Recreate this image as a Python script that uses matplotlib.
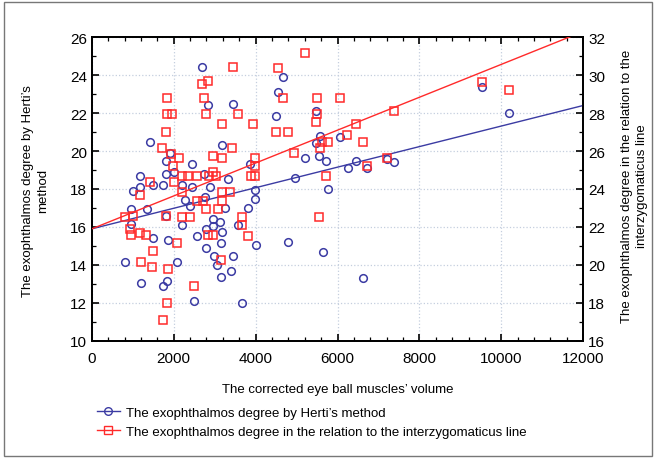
import numpy as np
import matplotlib.pyplot as plt
from matplotlib.patches import Rectangle
from matplotlib.lines import Line2D
from matplotlib.ticker import MultipleLocator

plt.rcParams['font.family'] = ['Liberation Sans', 'DejaVu Sans']

# corrected eye ball muscles' volume vs exophthalmos degree by Hertel's method (left axis)
herti_x = [2680, 2840, 3440, 1430, 3170, 1920, 1820, 2450, 1170, 1820, 2010, 2740, 3330, 3860,
           1730, 2190, 2440, 2880, 1000, 1165, 1490, 960, 1340, 1820,
           3985, 3985, 2270, 2395, 3250, 3820, 2760,
           960, 1490, 1860, 815, 1205, 1735, 1825, 2085, 2965, 3130, 2965, 2800, 2190, 2580,
           3170, 3560, 3145, 2800, 2980, 3045, 3445, 3410, 3145, 4010, 2500, 3660,
           5570, 5475, 6060, 5205, 5550, 5720, 4960, 5775, 6250, 6450, 4675, 4555, 4500, 5475,
           6730, 7220, 7390, 4800, 5640, 6615, 9540, 10190]
herti_y = [24.44, 22.4, 22.5, 20.5, 20.3, 19.9, 19.45, 19.3, 18.7, 18.8, 18.9, 18.8, 18.5, 19.3,
           18.2, 18.2, 18.1, 18.1, 17.9, 18.1, 18.2, 16.95, 16.95, 16.6,
           17.96, 17.47, 17.44, 17.09, 16.98, 16.98, 17.6,
           16.16, 15.42, 15.3, 14.17, 13.05, 12.9, 13.17, 14.17, 16.42, 16.25, 16.07, 15.9, 16.12, 15.5,
           15.72, 16.12, 15.16, 14.9, 14.46, 14.02, 14.46, 13.7, 13.38, 15.07, 12.09, 11.98,
           20.77, 20.42, 20.72, 19.62, 19.75, 19.49, 18.6, 18.0, 19.09, 19.49, 23.91, 23.12, 21.83, 22.12,
           19.09, 19.58, 19.44, 15.2, 14.7, 13.3, 23.35, 22.0]

# exophthalmos degree in relation to the interzygomaticus line (right axis)
inter_x = [3440, 2680, 2845, 2730, 1840, 1825, 1950, 2800, 3575, 3170, 1810, 1725, 3430, 2125,
           2950, 3190, 1970, 1420, 2010, 2190, 2355, 2560, 2950, 2870, 3030, 3885, 3985, 3985,
           3940, 3985, 1940,
           1170, 2190, 2560, 2720, 3170, 3370, 3170, 2800, 3085, 810, 1000, 1810, 2190, 2395,
           3660, 3660, 920, 960, 1165, 1330, 2845, 2950, 3820, 2085, 1490, 1205, 1470, 1865,
           3145, 2500, 1825, 1735,
           5205, 4555, 4675, 5490, 6060, 4500, 4800, 5490, 5475, 6450, 6240, 6615, 5610, 5775,
           5570, 4945, 5720, 5555, 6730, 7220, 7380, 9540, 10190]
inter_y = [30.44, 29.53, 29.7, 28.8, 28.8, 27.95, 27.95, 27.95, 27.95, 27.42, 27.0, 26.16, 26.14, 25.62,
           25.75, 25.62, 25.23, 24.35, 24.35, 24.7, 24.7, 24.7, 24.9, 24.7, 24.7, 24.7, 24.7, 25.62,
           27.42, 25.2, 25.84,
           23.68, 23.83, 23.38, 23.38, 23.83, 23.83, 23.38, 22.95, 22.95, 22.5, 22.56, 22.6, 22.54, 22.54,
           22.54, 22.12, 21.9, 21.6, 21.7, 21.6, 21.6, 21.6, 21.5, 21.14, 20.72, 20.17, 19.9, 19.8,
           20.28, 18.91, 17.98, 17.1,
           31.16, 30.35, 28.8, 28.8, 28.8, 27.0, 27.0, 27.95, 27.54, 27.42, 26.84, 26.49, 26.49, 26.49,
           26.14, 25.9, 24.67, 22.54, 25.2, 25.62, 28.12, 29.65, 29.23]

# regression lines
fit_x = [0, 12000]
herti_fit = [15.9, 22.4]
inter_fit = [21.9, 32.3]

blue = '#3b3ba3'
red = '#ff2a2a'

fig = plt.figure(figsize=(6.56, 4.6), dpi=100)
ax = fig.add_axes([0.140, 0.257, 0.749, 0.660])
ax2 = ax.twinx()

ax.plot(herti_x, herti_y, 'o', ms=5.5, mfc='none', mec=blue, mew=1.1, zorder=3)
ax.plot(fit_x, herti_fit, '-', color=blue, lw=1.0, zorder=4)
ax2.plot(inter_x, inter_y, 's', ms=5.5, mfc='none', mec=red, mew=1.1, zorder=3)
ax2.plot(fit_x, inter_fit, '-', color=red, lw=1.0, zorder=4)

ax.set_xlim(0, 12000)
ax.set_ylim(10, 26)
ax2.set_ylim(16, 32)
ax.xaxis.set_major_locator(MultipleLocator(2000))
ax.xaxis.set_minor_locator(MultipleLocator(400))
ax.yaxis.set_major_locator(MultipleLocator(2))
ax.yaxis.set_minor_locator(MultipleLocator(1))
ax2.yaxis.set_major_locator(MultipleLocator(2))
ax2.yaxis.set_minor_locator(MultipleLocator(1))

ax.grid(True, which='major', color='#c4cede', ls=':', lw=0.9)
ax.tick_params(which='both', direction='in', top=True, labelsize=11)
ax.tick_params(which='major', length=5, width=1.2)
ax.tick_params(which='minor', length=3, width=0.9)
ax2.tick_params(which='both', direction='in', labelsize=11)
ax2.tick_params(which='major', length=5, width=1.2)
ax2.tick_params(which='minor', length=3, width=0.9)
ax.tick_params(axis='x', pad=7)
for a in (ax, ax2):
    for s in a.spines.values():
        s.set_linewidth(1.3)

ax.set_xlabel("The corrected eye ball muscles\u2019 volume", fontsize=9.5, labelpad=13)
fig.text(0.054, 0.585, "The exophthalmos degree by Herti\u2019s\nmethod", rotation=90,
         ha='center', va='center', fontsize=9.5, linespacing=1.3)
fig.text(0.967, 0.595, "The exophthalmos degree in the relation to the\ninterzygomaticus line",
         rotation=90, ha='center', va='center', fontsize=9.5, linespacing=1.3)

handles = [Line2D([], [], color=blue, lw=1.0, marker='o', ms=5.5, mfc='none', mec=blue),
           Line2D([], [], color=red, lw=1.0, marker='s', ms=5.5, mfc='none', mec=red)]
fig.legend(handles, ["The exophthalmos degree by Herti\u2019s method",
                     "The exophthalmos degree in the relation to the interzygomaticus line"],
           loc='upper left', bbox_to_anchor=(0.140, 0.126), frameon=False, fontsize=9.5,
           handlelength=1.7, handletextpad=0.5, labelspacing=0.55, borderaxespad=0)

fig.patches.append(Rectangle((0.006, 0.006), 0.988, 0.988, transform=fig.transFigure,
                             fill=False, ec='#777777', lw=1.0))

fig.savefig('out.png', dpi=100)
